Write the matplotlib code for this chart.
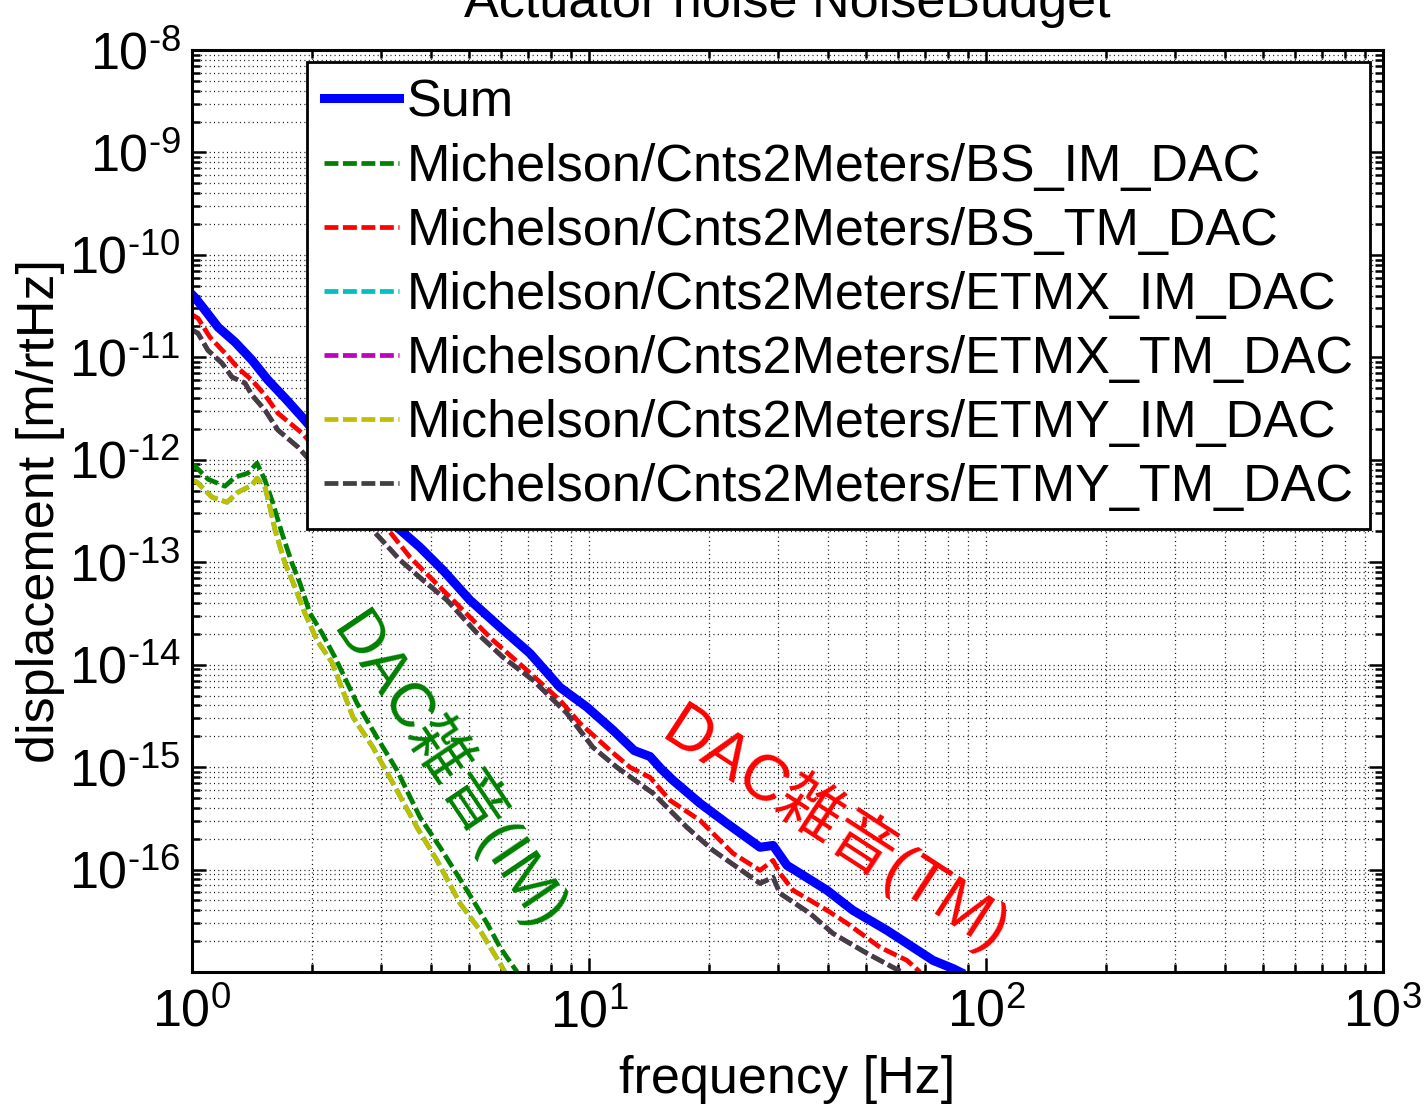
import numpy as np
import matplotlib
matplotlib.use('Agg')
import matplotlib.pyplot as plt

plt.rcParams['font.family'] = ['Liberation Sans', 'Noto Sans CJK JP']
plt.rcParams['mathtext.fontset'] = 'custom'
plt.rcParams['mathtext.rm'] = 'Liberation Sans'
plt.rcParams['mathtext.it'] = 'Liberation Sans:italic'
plt.rcParams['mathtext.bf'] = 'Liberation Sans:bold'
plt.rcParams['lines.scale_dashes'] = False

FS = 37.5

# ---- noise curves (frequency [Hz], displacement [m/rtHz]) ----
f_sum = [1.0, 1.02, 1.078, 1.163, 1.283, 1.416, 1.554, 1.715, 1.904,
         3.284, 3.752, 4.288, 5.015, 5.97, 7.10, 8.45, 9.89, 11.50, 13.0,
         14.24, 15.2, 16.28, 19.04, 22.26, 26.96, 29.08, 31.52, 34.0,
         39.78, 46.2, 56.3, 65.5, 73.5, 82.6, 86.0]
d_sum = [4.1e-11, 3.79e-11, 2.89e-11, 1.97e-11, 1.41e-11, 9.4e-12, 5.99e-12,
         4.0e-12, 2.55e-12, 2.2e-13, 1.40e-13, 8.35e-14, 4.26e-14, 2.32e-14,
         1.29e-14, 6.01e-15, 3.84e-15, 2.29e-15, 1.45e-15, 1.27e-15, 9.6e-16,
         7.43e-16, 4.43e-16, 2.82e-16, 1.65e-16, 1.72e-16, 1.10e-16, 9.18e-17,
         6.27e-17, 4.0e-17, 2.55e-17, 1.74e-17, 1.30e-17, 1.08e-17, 1.0e-17]

f_bs_tm = [1.0, 1.035, 1.110, 1.211, 1.306, 1.416, 1.527, 1.646, 1.893,
           3.027, 3.541, 3.977, 4.733, 5.73, 6.98, 8.45, 9.49, 11.29, 12.69,
           14.24, 16.0, 19.04, 23.05, 26.96, 29.08, 30.27, 32.66, 39.78,
           44.66, 54.1, 63.2, 68.2]
d_bs_tm = [2.6e-11, 2.41e-11, 1.57e-11, 1.10e-11, 7.85e-12, 5.98e-12, 4.28e-12,
           2.85e-12, 1.82e-12, 2.40e-13, 1.12e-13, 7.14e-14, 3.64e-14, 1.73e-14,
           8.81e-15, 4.49e-15, 2.68e-15, 1.46e-15, 9.95e-16, 7.95e-16, 4.74e-16,
           3.02e-16, 1.44e-16, 9.82e-17, 1.23e-16, 9.18e-17, 6.27e-17, 4.0e-17,
           2.99e-17, 1.74e-17, 1.30e-17, 1.0e-17]

f_etm_tm = [1.0, 1.035, 1.097, 1.190, 1.261, 1.360, 1.416, 1.527, 1.646,
            1.849, 2.808, 3.342, 3.819, 4.388, 5.224, 6.073, 7.23, 8.80,
            10.23, 11.76, 14.5, 15.72, 17.65, 20.53, 26.96, 29.08, 30.27,
            36.04, 41.17, 50.15, 58.3, 61.4]
d_etm_tm = [1.85e-11, 1.72e-11, 1.17e-11, 8.77e-12, 6.41e-12, 5.6e-12, 4.28e-12,
            3.05e-12, 1.95e-12, 1.33e-12, 2.20e-13, 1.05e-13, 6.67e-14, 4.26e-14,
            2.03e-14, 1.18e-14, 7.05e-15, 3.35e-15, 1.56e-15, 9.95e-16, 5.55e-16,
            4.05e-16, 2.58e-16, 1.54e-16, 7.33e-17, 8.39e-17, 5.86e-17, 3.73e-17,
            2.38e-17, 1.52e-17, 1.11e-17, 1.0e-17]

f_bs_im = [1.0, 1.018, 1.097, 1.211, 1.283, 1.383, 1.458, 1.527, 1.590,
           1.685, 1.786, 1.871, 1.982, 2.126, 2.292, 2.604, 2.924, 3.284,
           3.752, 4.215, 4.928, 5.535, 5.97, 6.59]
d_bs_im = [8.9e-13, 8.66e-13, 6.47e-13, 5.52e-13, 6.76e-13, 7.40e-13, 9.27e-13,
           6.32e-13, 4.03e-13, 1.92e-13, 9.77e-14, 6.23e-14, 3.18e-14, 2.03e-14,
           1.18e-14, 4.20e-15, 1.95e-15, 9.31e-16, 3.24e-16, 1.65e-16, 6.27e-17,
           2.99e-17, 1.74e-17, 1.0e-17]

f_etm_im = [1.0, 1.029, 1.123, 1.225, 1.306, 1.416, 1.458, 1.527, 1.572,
            1.619, 1.715, 1.817, 1.925, 2.064, 2.253, 2.545, 2.857, 3.209,
            3.688, 4.141, 4.733, 5.315, 5.97, 6.14]
d_etm_im = [6.3e-13, 6.04e-13, 4.31e-13, 3.85e-13, 4.83e-13, 5.65e-13, 6.61e-13,
            5.40e-13, 3.44e-13, 2.05e-13, 9.77e-14, 5.70e-14, 3.18e-14, 1.73e-14,
            1.05e-14, 3.06e-15, 1.56e-15, 6.95e-16, 2.58e-16, 1.23e-16, 4.68e-17,
            2.55e-17, 1.21e-17, 1.0e-17]

labels = ['Sum',
          'Michelson/Cnts2Meters/BS_IM_DAC',
          'Michelson/Cnts2Meters/BS_TM_DAC',
          'Michelson/Cnts2Meters/ETMX_IM_DAC',
          'Michelson/Cnts2Meters/ETMX_TM_DAC',
          'Michelson/Cnts2Meters/ETMY_IM_DAC',
          'Michelson/Cnts2Meters/ETMY_TM_DAC']
colors = ['#0000ff', '#008000', '#ff0000', '#00bfbf', '#bf00bf', '#bfbf00', '#404040']
# ETMX and ETMY actuators share the same DAC noise curves
series = [(f_sum, d_sum), (f_bs_im, d_bs_im), (f_bs_tm, d_bs_tm),
          (f_etm_im, d_etm_im), (f_etm_tm, d_etm_tm),
          (f_etm_im, d_etm_im), (f_etm_tm, d_etm_tm)]

fig = plt.figure(figsize=(14.24, 11.14), dpi=100)
ax = fig.add_axes([192 / 1424, 1 - 972 / 1114, 1191 / 1424, 922 / 1114])

for i, ((f, d), lab, c) in enumerate(zip(series, labels, colors)):
    if i == 0:
        ax.loglog(f, d, color=c, lw=6.5, label=lab)
    else:
        ax.loglog(f, d, color=c, lw=3.4, ls=(0, (10, 3.3)), label=lab)


def pow_label(e):
    # plain hyphen in the exponent, like the original plotting tool
    return r'$10^{\text{%s}}$' % ('%d' % e)


ax.set_xlim(1, 1000)
ax.set_ylim(1e-17, 1e-8)
ax.set_xticks([1, 10, 100, 1000])
ax.set_xticklabels([pow_label(e) for e in range(0, 4)])
yexp = list(range(-16, -7))
ax.set_yticks([10.0 ** e for e in yexp])
ax.set_yticklabels([pow_label(e) for e in yexp])
ax.yaxis.set_minor_locator(matplotlib.ticker.LogLocator(base=10, subs=np.arange(2, 10), numticks=30))
ax.xaxis.set_minor_locator(matplotlib.ticker.LogLocator(base=10, subs=np.arange(2, 10), numticks=30))
ax.yaxis.set_minor_formatter(matplotlib.ticker.NullFormatter())
ax.xaxis.set_minor_formatter(matplotlib.ticker.NullFormatter())

ax.tick_params(which='both', direction='in', top=True, right=True, labelsize=FS, width=1.8)
ax.tick_params(which='major', length=10)
ax.tick_params(which='minor', length=6)
ax.tick_params(axis='x', pad=12)
ax.tick_params(axis='y', pad=8)
for s in ax.spines.values():
    s.set_linewidth(2.2)

ax.grid(True, which='both', color='black', ls=(0, (0.7, 2.4)), lw=0.9)

ax.set_xlabel('frequency [Hz]', fontsize=FS, labelpad=12)
ax.set_ylabel('displacement [m/rtHz]', fontsize=FS, labelpad=3)
fig.text(787 / 1424, 1 - 17 / 1114, 'Actuator noise NoiseBudget', fontsize=FS,
         ha='center', va='baseline')

leg = ax.legend(loc='upper left', bbox_to_anchor=(0.0966, 0.987), borderaxespad=0,
                fontsize=FS, handlelength=1.44, handletextpad=0.15, labelspacing=0.29,
                borderpad=0.32, fancybox=False, framealpha=1, edgecolor='black')
leg.get_frame().set_linewidth(2.0)

ax.text(4.47, 9.1e-16, 'DAC雑音(IM)', color='#008000', fontsize=45, rotation=-56,
        ha='center', va='center', rotation_mode='anchor')
ax.text(42.0, 2.5e-16, 'DAC雑音(TM)', color='#ff0000', fontsize=46, rotation=-33,
        ha='center', va='center', rotation_mode='anchor')

fig.savefig('out.png', dpi=100)
